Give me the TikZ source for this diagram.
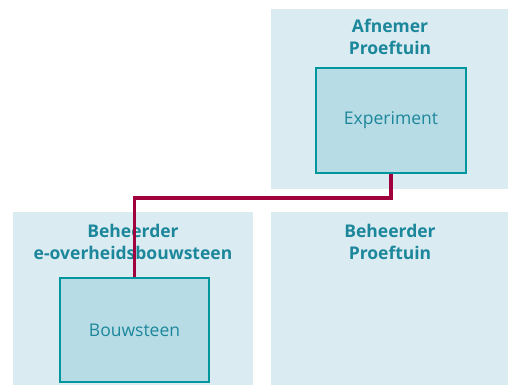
\documentclass[tikz,border=0pt]{standalone}
\usepackage{fontspec}
\setmainfont{Open Sans}
\usetikzlibrary{positioning}
\definecolor{panelblue}{RGB}{218,236,242}
\definecolor{boxblue}{RGB}{184,220,230}
\definecolor{tealline}{RGB}{0,150,158}
\definecolor{tealtext}{RGB}{28,135,155}
\definecolor{linkred}{RGB}{160,0,60}
\tikzset{
    panel/.style={rectangle, fill=panelblue, inner sep=0pt, anchor=north west},
    paneltitle/.style={align=center, font=\fontsize{17.5}{22}\selectfont\bfseries, text=tealtext, anchor=north, inner sep=0pt},
    block/.style={rectangle, draw=tealline, line width=2.4pt, fill=boxblue, align=center, font=\fontsize{17.5}{20}\selectfont, text=tealtext, inner sep=0pt},
    link/.style={draw=linkred, line width=3.6pt}
}
\begin{document}
\begin{tikzpicture}[x=1pt, y=-1pt]
    \useasboundingbox (0,0) rectangle (508,385);
    % panels
    \node[panel, minimum width=237pt, minimum height=180pt] (afnemer) at (271,9) {};
    \node[panel, minimum width=240pt, minimum height=173pt] (beheerbs) at (13,212) {};
    \node[panel, minimum width=237pt, minimum height=173pt] (beheerpt) at (271,212) {};
    % titles
    \node[paneltitle] (afnemertitle) at (390,19) {Afnemer\\Proeftuin};
    \node[paneltitle] (beheerbstitle) at (133,224) {Beheerder\\e-overheidsbouwsteen};
    \node[paneltitle] (beheerpttitle) at (390,224) {Beheerder\\Proeftuin};
    % blocks
    \node[block, minimum width=150pt, minimum height=105pt] (exp) at (391,120.5) {Experiment};
    \node[block, minimum width=149pt, minimum height=104pt] (bouw) at (134.5,330) {Bouwsteen};
    % connector
    \draw[link] (exp.south) -- ++(0,24) -| (bouw.north);
\end{tikzpicture}
\end{document}
